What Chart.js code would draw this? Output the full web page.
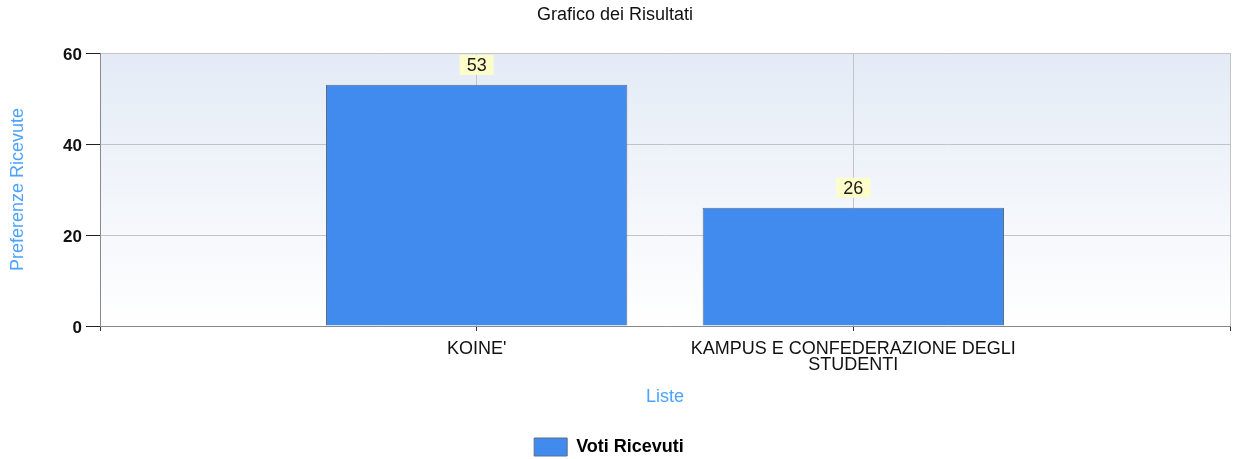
<!DOCTYPE html>
<html>
<head>
<meta charset="utf-8">
<script src="https://cdn.jsdelivr.net/npm/chart.js@4/dist/chart.umd.min.js"></script>
<style>
  body { margin: 0; background: #fff; }
  #wrap { width: 1234px; height: 459px; position: relative; }
</style>
</head>
<body>
<div id="wrap"><canvas id="chart"></canvas></div>
<script>
// slots 0 and 3 are empty padding categories, like the original axis 0..3
const categories = ['', "KOINE'", ['KAMPUS E CONFEDERAZIONE DEGLI', 'STUDENTI'], ''];
const votes = [null, 53, 26, null];
const yTicks = [0, 20, 40, 60];

const titleColor = '#4da3ff';
const barColor = '#418bee';
const fontFamily = 'Arial, "Liberation Sans", sans-serif';

// plot area background: light blue at top fading to white
const plotBackground = {
  id: 'plotBackground',
  beforeDraw(chart) {
    const { ctx, chartArea: a } = chart;
    const g = ctx.createLinearGradient(0, a.top, 0, a.bottom);
    g.addColorStop(0, '#e4ebf6');
    g.addColorStop(1, '#ffffff');
    ctx.save();
    ctx.fillStyle = g;
    ctx.fillRect(a.left, a.top, a.right - a.left, a.bottom - a.top);
    ctx.restore();
  }
};

// nudge the legend a bit to the left, as in the original
const legendShift = {
  id: 'legendShift',
  afterLayout(chart) {
    chart.legend._baseLeft = chart.legend.left;
    chart.legend._baseRight = chart.legend.right;
  },
  beforeDraw(chart) {
    const lg = chart.legend;
    if (lg._baseLeft === undefined) return;
    lg.left = lg._baseLeft - 6;
    lg.right = lg._baseRight - 6;
  }
};

// value labels on yellow boxes above the bars
const valueLabels = {
  id: 'valueLabels',
  afterDatasetsDraw(chart) {
    const ctx = chart.ctx;
    const meta = chart.getDatasetMeta(0);
    ctx.save();
    ctx.font = '18px ' + fontFamily;
    ctx.textAlign = 'center';
    ctx.textBaseline = 'middle';
    meta.data.forEach((bar, i) => {
      const v = votes[i];
      if (v == null) return;
      const txt = String(v);
      const w = ctx.measureText(txt).width + 14;
      const cy = bar.y - 20;
      ctx.fillStyle = '#fdfdc9';
      ctx.fillRect(bar.x - w / 2, cy - 10, w, 20);
      ctx.fillStyle = '#1a1a1a';
      ctx.fillText(txt, bar.x, cy + 1);
    });
    ctx.restore();
  }
};

new Chart(document.getElementById('chart'), {
  type: 'bar',
  data: {
    labels: categories,
    datasets: [{
      label: 'Voti Ricevuti',
      data: votes,
      backgroundColor: barColor,
      borderColor: '#5c6e86',
      borderWidth: 1,
      barPercentage: 0.8,
      categoryPercentage: 1
    }]
  },
  options: {
    responsive: true,
    maintainAspectRatio: false,
    animation: false,
    layout: { padding: { left: 0, right: 4, top: 0, bottom: -7 } },
    plugins: {
      title: {
        display: true,
        text: 'Grafico dei Risultati',
        color: '#111',
        font: { family: fontFamily, size: 18, weight: 'normal' },
        padding: { top: 4.2, bottom: 27.2 }
      },
      legend: {
        position: 'bottom',
        labels: {
          boxWidth: 33,
          boxHeight: 18,
          padding: 10,
          color: '#000',
          font: { family: fontFamily, size: 18, weight: 'bold' }
        }
      },
      tooltip: { enabled: false }
    },
    scales: {
      x: {
        offset: false,
        afterFit(scale) { scale.height = 102; scale.paddingRight = 0; scale.paddingLeft = 0; },
        grid: { offset: false, color: '#c4c4c4', tickColor: '#333', tickLength: 5 },
        border: { color: '#8a8a8a', width: 1 },
        ticks: {
          color: '#111',
          padding: 10,
          maxRotation: 0,
          autoSkip: false,
          font: { family: fontFamily, size: 18, lineHeight: 0.89 }
        },
        title: {
          display: true,
          text: 'Liste',
          color: titleColor,
          font: { family: fontFamily, size: 18 },
          padding: { top: 0, bottom: 20 }
        }
      },
      y: {
        min: 0,
        max: yTicks[yTicks.length - 1],
        afterFit(scale) { scale.width = 100; },
        afterBuildTicks(scale) { scale.ticks = yTicks.map(v => ({ value: v })); },
        grid: { color: '#c4c4c4', tickColor: '#222', tickLength: 14 },
        border: { color: '#8a8a8a', width: 1 },
        ticks: {
          color: '#111',
          padding: 4,
          labelOffset: 2,
          font: { family: fontFamily, size: 17, weight: 'bold' }
        },
        title: {
          display: true,
          text: 'Preferenze Ricevute',
          color: titleColor,
          font: { family: fontFamily, size: 18 },
          padding: { top: 7, bottom: 0 }
        }
      }
    }
  },
  plugins: [plotBackground, legendShift, valueLabels]
});
</script>
</body>
</html>
